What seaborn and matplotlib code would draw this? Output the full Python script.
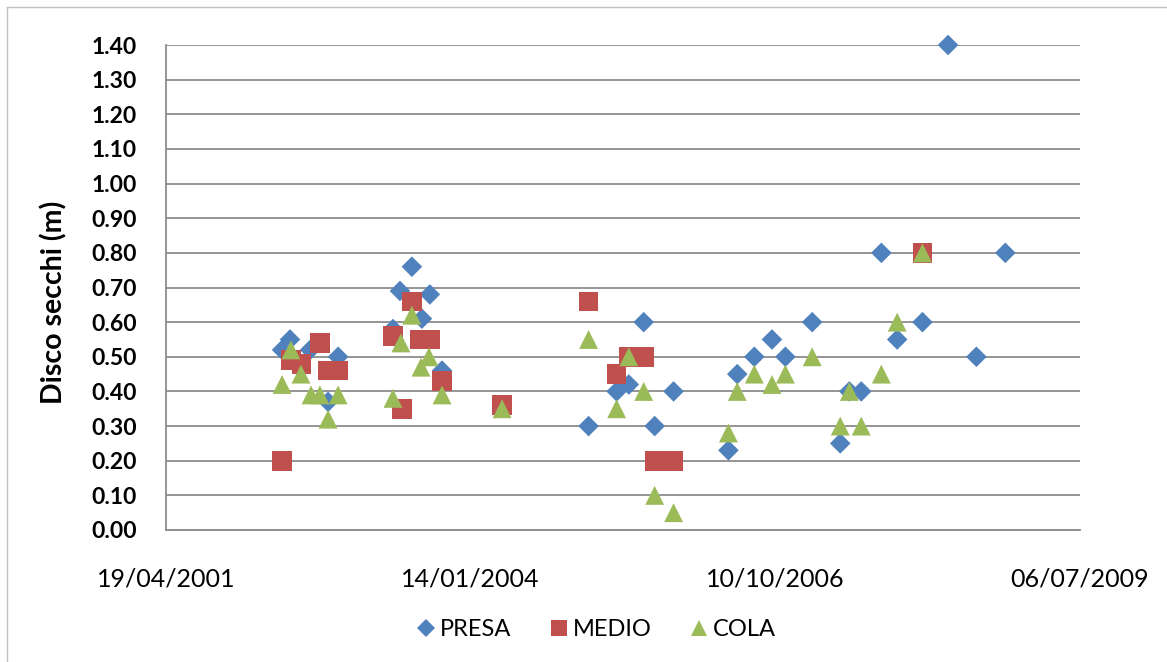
import pandas as pd
import numpy as np
import seaborn as sns
import matplotlib.pyplot as plt
import matplotlib.dates as mdates
from matplotlib.lines import Line2D

presa_dates = ['2002-05-05', '2002-05-31', '2002-08-05', '2002-10-03', '2002-11-05',
               '2003-05-04', '2003-05-27', '2003-07-05', '2003-08-07', '2003-09-02', '2003-10-12',
               '2005-02-04', '2005-05-07', '2005-06-16', '2005-08-04', '2005-09-09', '2005-11-10',
               '2006-05-09', '2006-06-07', '2006-08-02', '2006-09-29', '2006-11-12', '2007-02-08',
               '2007-05-11', '2007-06-10', '2007-07-19', '2007-09-23', '2007-11-14', '2008-02-05',
               '2008-04-29', '2008-07-31', '2008-11-03']
presa_vals = [0.52, 0.55, 0.52, 0.37, 0.50,
              0.58, 0.69, 0.76, 0.61, 0.68, 0.46,
              0.30, 0.40, 0.42, 0.60, 0.30, 0.40,
              0.23, 0.45, 0.50, 0.55, 0.50, 0.60,
              0.25, 0.40, 0.40, 0.80, 0.55, 0.60,
              1.40, 0.50, 0.80]

medio_dates = ['2002-05-05', '2002-06-03', '2002-07-08', '2002-09-06', '2002-10-03', '2002-11-05',
               '2003-05-04', '2003-06-03', '2003-07-05', '2003-08-01', '2003-09-02', '2003-10-12',
               '2004-04-26',
               '2005-02-04', '2005-05-07', '2005-06-16', '2005-08-04', '2005-09-09', '2005-11-10',
               '2008-02-05']
medio_vals = [0.20, 0.49, 0.48, 0.54, 0.46, 0.46,
              0.56, 0.35, 0.66, 0.55, 0.55, 0.43,
              0.36,
              0.66, 0.45, 0.50, 0.50, 0.20, 0.20,
              0.80]

cola_dates = ['2002-05-05', '2002-06-03', '2002-07-06', '2002-08-08', '2002-09-06', '2002-10-03', '2002-11-05',
              '2003-05-04', '2003-05-30', '2003-07-05', '2003-08-04', '2003-08-30', '2003-10-12',
              '2004-04-26',
              '2005-02-04', '2005-05-07', '2005-06-16', '2005-08-04', '2005-09-09', '2005-11-10',
              '2006-05-09', '2006-06-07', '2006-08-02', '2006-09-29', '2006-11-12', '2007-02-08',
              '2007-05-11', '2007-06-10', '2007-07-19', '2007-09-23', '2007-11-14', '2008-02-05']
cola_vals = [0.42, 0.52, 0.45, 0.39, 0.39, 0.32, 0.39,
             0.38, 0.54, 0.62, 0.47, 0.50, 0.39,
             0.35,
             0.55, 0.35, 0.50, 0.40, 0.10, 0.05,
             0.28, 0.40, 0.45, 0.42, 0.45, 0.50,
             0.30, 0.40, 0.30, 0.45, 0.60, 0.80]

tick_dates = ['2001-04-19', '2004-01-14', '2006-10-10', '2009-07-06']
sites = ['PRESA', 'MEDIO', 'COLA']
colors = {'PRESA': '#4F81BD', 'MEDIO': '#C0504D', 'COLA': '#9BBB59'}
markers = {'PRESA': 'D', 'MEDIO': 's', 'COLA': '^'}
sizes = {'PRESA': 110, 'MEDIO': 200, 'COLA': 185}

df = pd.concat([
    pd.DataFrame({'fecha': pd.to_datetime(presa_dates), 'valor': presa_vals, 'sitio': 'PRESA'}),
    pd.DataFrame({'fecha': pd.to_datetime(medio_dates), 'valor': medio_vals, 'sitio': 'MEDIO'}),
    pd.DataFrame({'fecha': pd.to_datetime(cola_dates), 'valor': cola_vals, 'sitio': 'COLA'}),
], ignore_index=True)

sns.set_theme(style="white")
plt.rcParams['font.family'] = ['Lato', 'DejaVu Sans']
plt.rcParams['text.color'] = 'black'

fig = plt.figure(figsize=(11.67, 6.62), dpi=100)
ax = fig.add_axes([166 / 1167, 1 - 530 / 662, (1080 - 166) / 1167, (530 - 45) / 662])

sns.scatterplot(data=df, x='fecha', y='valor', hue='sitio', style='sitio', size='sitio',
                palette=colors, markers=markers, sizes=sizes, linewidth=0,
                legend=False, ax=ax, zorder=3, clip_on=False)

ticks = pd.to_datetime(tick_dates)
ax.set_xlim(ticks[0], ticks[-1])
ax.set_xticks(ticks)
ax.xaxis.set_major_formatter(mdates.DateFormatter('%d/%m/%Y'))
ax.set_ylim(0, 1.4)
ax.set_yticks(np.round(np.arange(0, 1.41, 0.1), 2))
ax.yaxis.set_major_formatter(plt.FormatStrFormatter('%.2f'))

ax.yaxis.grid(True, color='#8c8c8c', lw=1.3)
ax.xaxis.grid(False)
ax.set_axisbelow(True)
for s in ['top', 'right']:
    ax.spines[s].set_visible(False)
for s in ['left', 'bottom']:
    ax.spines[s].set_color('#8c8c8c')
    ax.spines[s].set_linewidth(1.3)

ax.tick_params(axis='y', length=0, pad=21, labelsize=16.5, labelcolor='black')
ax.tick_params(axis='x', length=0, pad=27, labelsize=18, labelcolor='black')
for lab in ax.get_yticklabels():
    lab.set_fontweight('bold')
ax.set_xlabel('')
ax.set_ylabel('Disco secchi (m)', fontsize=20.5, fontweight='bold', color='black')
ax.yaxis.set_label_coords((67 - 166) / 914, (530 - 302) / 485)

handles = [Line2D([], [], ls='none', marker=markers[k], color=colors[k],
                  markersize=np.sqrt(sizes[k]) * 0.85, markeredgewidth=0) for k in sites]
fig.legend(handles, sites, loc='center', bbox_to_anchor=(595 / 1167, 1 - 630 / 662), ncol=3,
           frameon=False, fontsize=17, handletextpad=0.1, columnspacing=1.5, handlelength=1.0)

fig.add_artist(Line2D([7 / 1167, 7 / 1167], [0, 1 - 7 / 662], transform=fig.transFigure,
                      color='#c0c0c0', lw=1))
fig.add_artist(Line2D([7 / 1167, 1], [1 - 7 / 662, 1 - 7 / 662], transform=fig.transFigure,
                      color='#c0c0c0', lw=1))

fig.savefig('out.png', dpi=100)
